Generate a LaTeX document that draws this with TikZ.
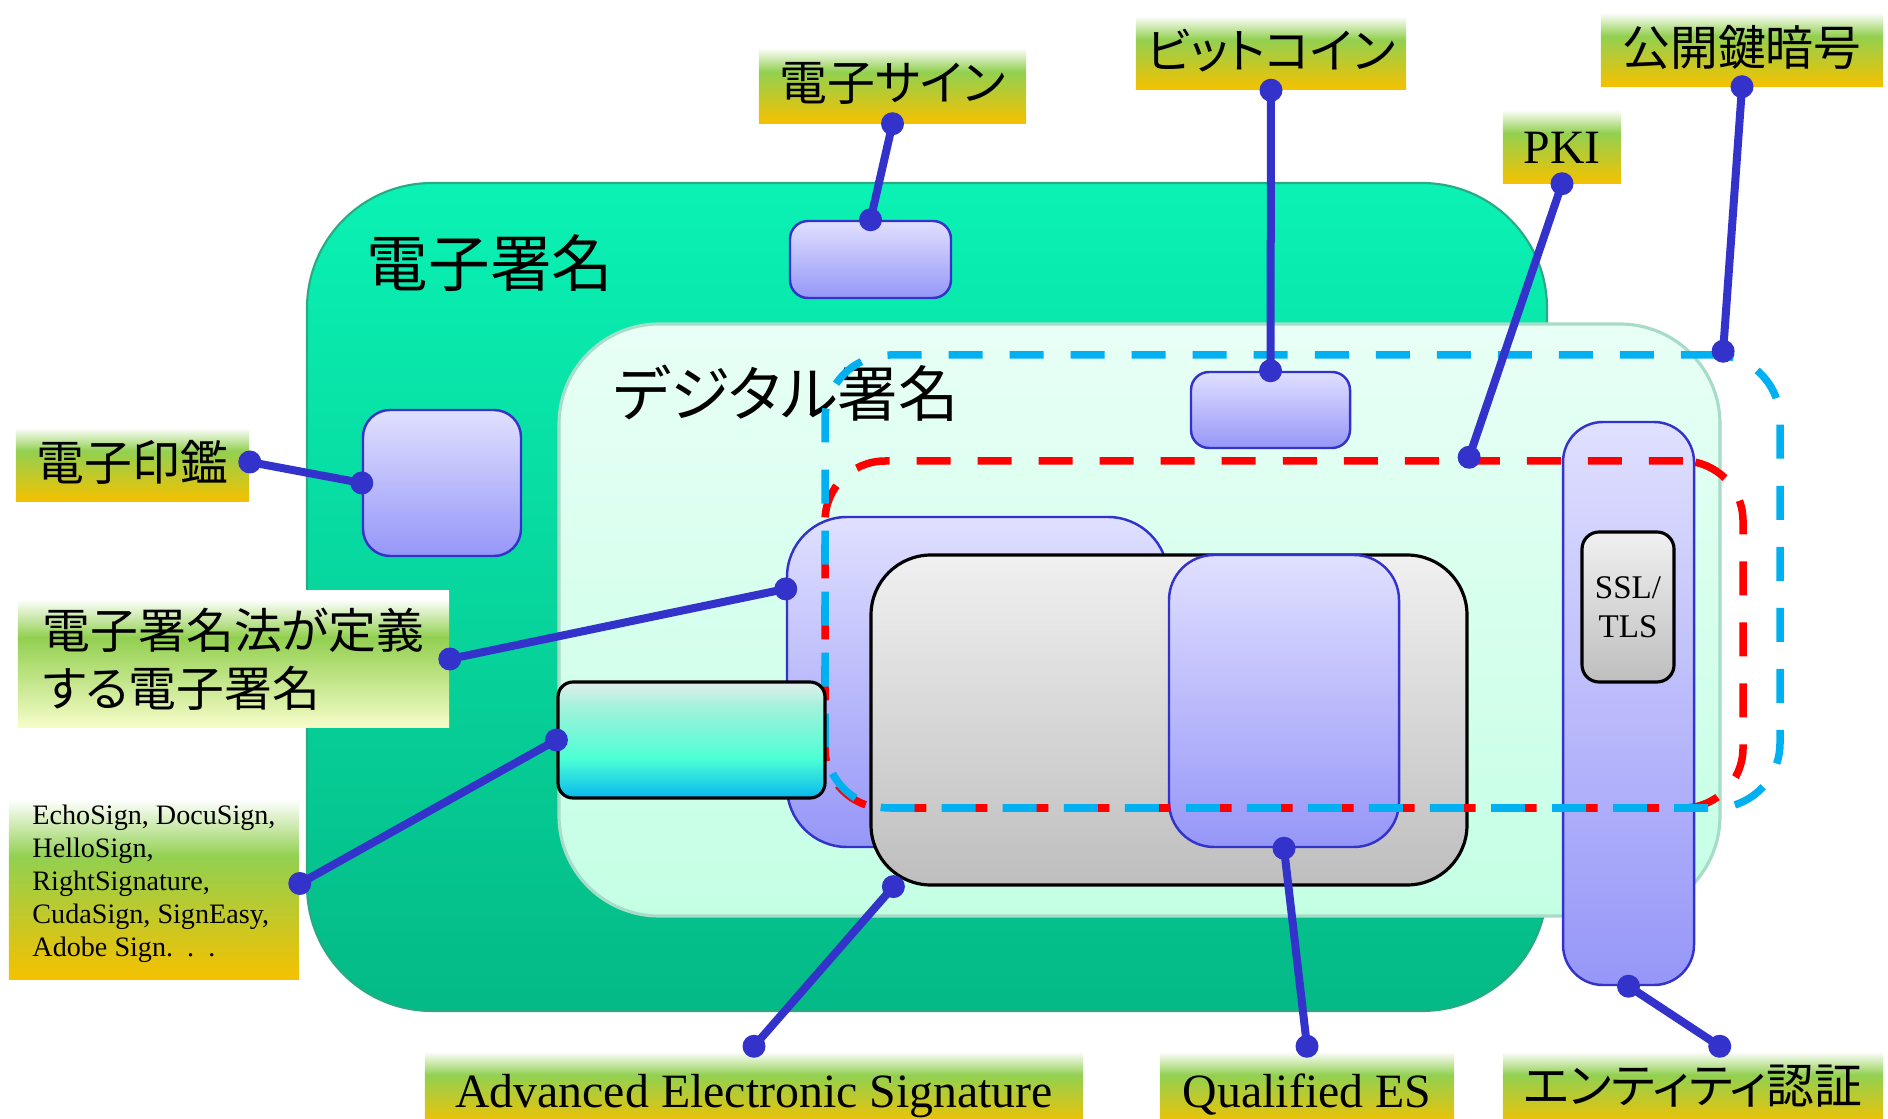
\documentclass[tikz,border=0pt]{standalone}
\usepackage{fontspec}
\setmainfont{Liberation Serif}
\newfontfamily\jpfont[RawFeature=+palt]{Noto Sans CJK JP}
\usetikzlibrary{calc,fit}

\definecolor{linkblue}{RGB}{51,51,204}
\definecolor{dashred}{RGB}{255,0,0}
\definecolor{dashblue}{RGB}{0,176,240}
\definecolor{lblgreen}{RGB}{146,208,80}
\definecolor{lblorange}{RGB}{245,193,0}
\definecolor{lblpale}{RGB}{246,252,200}
\definecolor{outtop}{RGB}{10,242,180}
\definecolor{outbot}{RGB}{4,186,134}
\definecolor{outline}{RGB}{40,170,130}
\definecolor{intop}{RGB}{232,255,246}
\definecolor{inbot}{RGB}{196,255,228}
\definecolor{inline}{RGB}{166,220,200}
\definecolor{lavtop}{RGB}{224,224,255}
\definecolor{lavbot}{RGB}{150,150,248}
\definecolor{grytop}{RGB}{240,240,240}
\definecolor{grybot}{RGB}{190,190,190}
\definecolor{cyantop}{RGB}{226,238,235}
\definecolor{cyanlite}{RGB}{160,242,220}
\definecolor{cyanmid}{RGB}{76,255,212}
\definecolor{cyanbot}{RGB}{8,184,238}

% 渐变
\pgfdeclareverticalshading{lblshade}{100bp}{color(0bp)=(lblorange); color(25bp)=(lblorange); color(57bp)=(lblgreen); color(72bp)=(white); color(100bp)=(white)}
\pgfdeclareverticalshading{lawshade}{100bp}{color(0bp)=(lblpale); color(25bp)=(lblpale); color(58bp)=(lblgreen); color(72bp)=(white); color(100bp)=(white)}
\pgfdeclareverticalshading{cyanshade}{100bp}{color(0bp)=(cyanbot); color(25bp)=(cyanbot); color(42bp)=(cyanmid); color(64bp)=(cyanlite); color(75bp)=(cyantop); color(100bp)=(cyantop)}

\tikzset{
    lbl/.style={shade, shading=lblshade, inner sep=0pt, minimum height=0.78cm,
        font=\jpfont\fontsize{13.6}{16}\selectfont},
    latin/.style={font=\fontsize{13.6}{16}\selectfont},
    lav/.style={draw=linkblue, line width=0.7pt, top color=lavtop, bottom color=lavbot, inner sep=0pt},
    grybox/.style={draw=black, line width=0.9pt, top color=grytop, bottom color=grybot, inner sep=0pt},
    dashbox/.style={line width=0.075cm, dash pattern=on 0.34cm off 0.27cm, inner sep=0pt},
    conn/.style={draw=linkblue, line width=0.08cm},
}

\begin{document}
\begin{tikzpicture}[x=0.01cm, y=-0.01cm]
        \useasboundingbox (0,0) rectangle (1888,1119);

        % 电子签名 / 数字签名 两个大框
        \node[fit={(307,183) (1547,1011)}, inner sep=0pt, rounded corners=1.25cm,
            draw=outline, line width=0.6pt, top color=outtop, bottom color=outbot] (es) {};
        \node[fit={(559,324) (1720,916)}, inner sep=0pt, rounded corners=1cm,
            draw=inline, line width=0.9pt, top color=intop, bottom color=inbot] (ds) {};
        \node[font=\jpfont\fontsize{17.5}{20}\selectfont] (estitle) at (490,263) {電子署名};
        \node[font=\jpfont\fontsize{17.2}{20}\selectfont] (dstitle) at (786,393) {デジタル署名};

        % 小框
        \node[lav, fit={(790,221) (951,298)}, rounded corners=0.18cm] (esignbox) {};
        \node[lav, fit={(1191,372) (1350,448)}, rounded corners=0.18cm] (btcbox) {};
        \node[lav, fit={(363,410) (521,556)}, rounded corners=0.27cm] (sealbox) {};
        \node[lav, fit={(787,517) (1168,847)}, rounded corners=0.6cm] (lawbox) {};
        \node[grybox, fit={(871,555) (1467,885)}, rounded corners=0.6cm] (advbox) {};
        \node[lav, fit={(1169,555) (1399,847)}, rounded corners=0.45cm] (qesbox) {};
        \node[lav, fit={(1563,422) (1694,985)}, rounded corners=0.4cm] (entbox) {};
        \node[grybox, fit={(1582,532) (1674,682)}, rounded corners=0.17cm] (sslbox) {};
        \node[font=\fontsize{9.4}{11}\selectfont, align=center] (ssltext) at (sslbox.center) {SSL/\\TLS};

        % 虚线框
        \node[dashbox, draw=dashred, fit={(825,461) (1743,808)}, rounded corners=0.6cm] (pki) {};
        \node[dashbox, draw=dashblue, fit={(825,355) (1780,808)}, rounded corners=0.65cm] (pkc) {};

        \node[draw=black, line width=0.9pt, shade, shading=cyanshade, inner sep=0pt,
            fit={(558,682) (825,798)}, rounded corners=0.15cm] (appbox) {};

        % 标签
        \node[lbl, minimum width=2.67cm, minimum height=0.8cm] (esignlbl) at (892.5,83) {電子サイン};
        \node[lbl, minimum width=2.70cm] (btclbl) at (1271,50.5) {ビットコイン};
        \node[lbl, minimum width=2.82cm] (pkclbl) at (1742,47) {公開鍵暗号};
        \node[lbl, latin, minimum width=1.18cm, text height=0.43cm, text depth=0.05cm] (pkilbl) at (1562,144) {PKI};
        \node[lbl, minimum width=2.33cm] (seallbl) at (132.5,462) {電子印鑑};
        \node[lbl, shading=lawshade, minimum width=4.31cm, minimum height=1.36cm, align=left,
            font=\jpfont\fontsize{13.6}{16.5}\selectfont] (lawlbl) at (233.5,659) {電子署名法が定義\\する電子署名};
        \node[lbl, minimum width=2.90cm, minimum height=1.91cm, align=left,
            font=\fontsize{8}{9.4}\selectfont] (applbl) at (154,883.5)
            {EchoSign, DocuSign,\\HelloSign,\\RightSignature,\\CudaSign, SignEasy,\\Adobe Sign.\enspace.\enspace.};
        \node[lbl, latin, minimum width=6.58cm, text height=0.5cm, text depth=0.064cm] (advlbl) at (754,1086) {Advanced Electronic Signature};
        \node[lbl, latin, minimum width=2.94cm, text height=0.5cm, text depth=0.064cm] (qeslbl) at (1307,1086) {Qualified ES};
        \node[lbl, minimum width=3.80cm] (entlbl) at (1693,1086) {エンティティ認証};

        % 连线
        \coordinate (lawpt) at ($(lawbox.north west)!0.22!(lawbox.south west)$);
        \coordinate (advpt) at ($(advbox.south west)!0.04!(advbox.south east)$);
        \coordinate (pkipt) at ($(pki.north west)!0.7!(pki.north east)$);
        \coordinate (pkcpt) at ($(pkc.north west)!0.937!(pkc.north east)$);
        \coordinate (entpt) at ($(entlbl.north west)!0.57!(entlbl.north east)$);
        \foreach \a/\b in {esignlbl.south/esignbox.north, btclbl.south/btcbox.north,
            pkclbl.south/pkcpt, pkilbl.south/pkipt, seallbl.east/sealbox.west,
            lawlbl.east/lawpt, applbl.east/appbox.west, advlbl.north/advpt,
            qeslbl.north/qesbox.south, entpt/entbox.south}
            {
                \draw[conn] (\a) -- (\b);
                \fill[linkblue] (\a) circle (0.115cm) (\b) circle (0.115cm);
            }

    \end{tikzpicture}
\end{document}
